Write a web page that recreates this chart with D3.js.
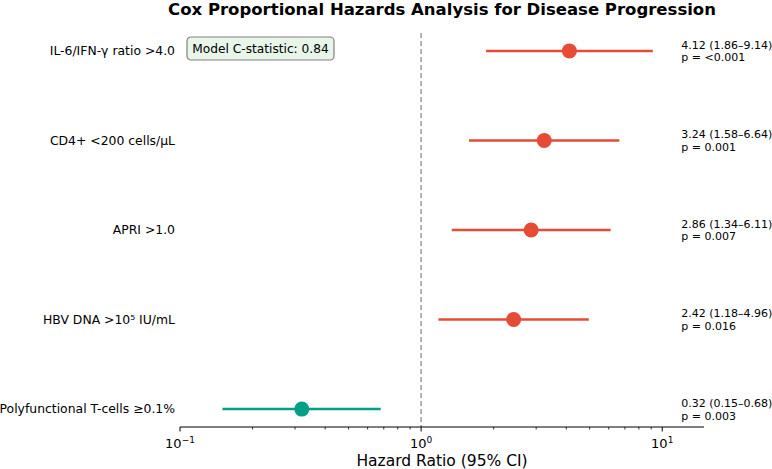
<!DOCTYPE html>
<html>
<head>
<meta charset="utf-8">
<script src="https://cdn.jsdelivr.net/npm/d3@7"></script>
<style>
  body { margin: 0; background: #fff; }
  svg { font-family: "DejaVu Sans", sans-serif; }
</style>
</head>
<body>
<div id="chart"></div>
<script>
// data, top row first
var labels = ["IL-6/IFN-γ ratio >4.0", "CD4+ <200 cells/μL", "APRI >1.0", "HBV DNA >10⁵ IU/mL", "Polyfunctional T-cells ≥0.1%"];
var hr = [4.12, 3.24, 2.86, 2.42, 0.32];
var lower = [1.86, 1.58, 1.34, 1.18, 0.15];
var upper = [9.14, 6.64, 6.11, 4.96, 0.68];
var pvals = ["<0.001", "0.001", "0.007", "0.016", "0.003"];
var xTicks = [0.1, 1, 10];
var xTickLabels = ["10", "10", "10"];
var xTickExp = ["−1", "0", "1"];

var width = 772, height = 469;
var margin = {left: 180, right: 68, top: 33, bottom: 42};
var w = width - margin.left - margin.right, h = height - margin.top - margin.bottom;

var red = "#E64B35", green = "#00A087";

var svg = d3.select("#chart").append("svg").attr("width", width).attr("height", height);
var g = svg.append("g").attr("transform", "translate(" + margin.left + "," + margin.top + ")");

var x = d3.scaleLog().domain([0.1, 14.9]).range([0, w]);
var y = d3.scaleLinear().domain([-0.2, 4.2]).range([h, 0]);
var n = labels.length;
var rowY = function(i) { return y(n - 1 - i); };

// reference line at HR = 1
g.append("line").attr("x1", x(1)).attr("x2", x(1)).attr("y1", 0).attr("y2", h)
  .attr("stroke", "#999").attr("stroke-width", 1.5).attr("stroke-dasharray", "5,3");

// axis
var minor = [];
[0.1, 1, 10].forEach(function(d) { for (var k = 2; k <= 9; k++) { if (d * k <= 14.9) minor.push(d * k); } });
var ax = g.append("g").attr("transform", "translate(0," + h + ")");
ax.append("line").attr("x1", 0).attr("x2", w).attr("stroke", "#000").attr("stroke-width", 1);
ax.selectAll(".minor").data(minor).enter().append("line")
  .attr("x1", function(d) { return x(d); }).attr("x2", function(d) { return x(d); })
  .attr("y1", 0).attr("y2", 2.5).attr("stroke", "#000").attr("stroke-width", 0.8);
ax.selectAll(".major").data(xTicks).enter().append("line")
  .attr("x1", function(d) { return x(d); }).attr("x2", function(d) { return x(d); })
  .attr("y1", 0).attr("y2", 4.5).attr("stroke", "#000").attr("stroke-width", 1);
var tl = ax.selectAll(".tl").data(xTicks).enter().append("text")
  .attr("x", function(d) { return x(d); }).attr("y", 21).attr("text-anchor", "middle")
  .style("font-size", "13px").attr("fill", "#000");
tl.append("tspan").text(function(d, i) { return xTickLabels[i]; });
tl.append("tspan").attr("dy", -5.5).style("font-size", "9px").text(function(d, i) { return xTickExp[i]; });

g.append("text").attr("x", w / 2).attr("y", h + 38.5).attr("text-anchor", "middle")
  .style("font-size", "15.5px").text("Hazard Ratio (95% CI)");

// title
g.append("text").attr("x", w / 2).attr("y", -18.5).attr("text-anchor", "middle")
  .style("font-size", "16.5px").style("font-weight", "bold")
  .text("Cox Proportional Hazards Analysis for Disease Progression");

// y labels
g.selectAll(".ylab").data(labels).enter().append("text")
  .attr("x", -5).attr("y", function(d, i) { return rowY(i); }).attr("dy", "0.35em")
  .attr("text-anchor", "end").style("font-size", "12.4px").text(function(d) { return d; });

// CIs and points
var col = function(i) { return hr[i] < 1 ? green : red; };
g.selectAll(".ci").data(hr).enter().append("line")
  .attr("x1", function(d, i) { return x(lower[i]); }).attr("x2", function(d, i) { return x(upper[i]); })
  .attr("y1", function(d, i) { return rowY(i); }).attr("y2", function(d, i) { return rowY(i); })
  .attr("stroke", function(d, i) { return col(i); }).attr("stroke-width", 2.5);
g.selectAll(".pt").data(hr).enter().append("circle")
  .attr("cx", function(d) { return x(d); }).attr("cy", function(d, i) { return rowY(i); })
  .attr("r", 7.5).attr("fill", function(d, i) { return col(i); });

// annotations
var ann = g.selectAll(".ann").data(hr).enter().append("text")
  .attr("x", x(12)).attr("y", function(d, i) { return rowY(i); })
  .style("font-size", "11px").attr("fill", "#000");
ann.append("tspan").attr("x", x(12)).attr("dy", "-0.2em")
  .text(function(d, i) { return d.toFixed(2) + " (" + lower[i].toFixed(2) + "–" + upper[i].toFixed(2) + ")"; });
ann.append("tspan").attr("x", x(12)).attr("dy", "1.15em")
  .text(function(d, i) { return "p = " + pvals[i]; });

// model stat box
var bx = g.append("g").attr("transform", "translate(7,4)");
bx.append("rect").attr("width", 147).attr("height", 23).attr("rx", 4)
  .attr("fill", "#e8f5e9").attr("stroke", "#808080").attr("stroke-width", 1.2);
bx.append("text").attr("x", 73.5).attr("y", 11.5).attr("dy", "0.35em").attr("text-anchor", "middle")
  .style("font-size", "12.2px").text("Model C-statistic: 0.84");
</script>
</body>
</html>
